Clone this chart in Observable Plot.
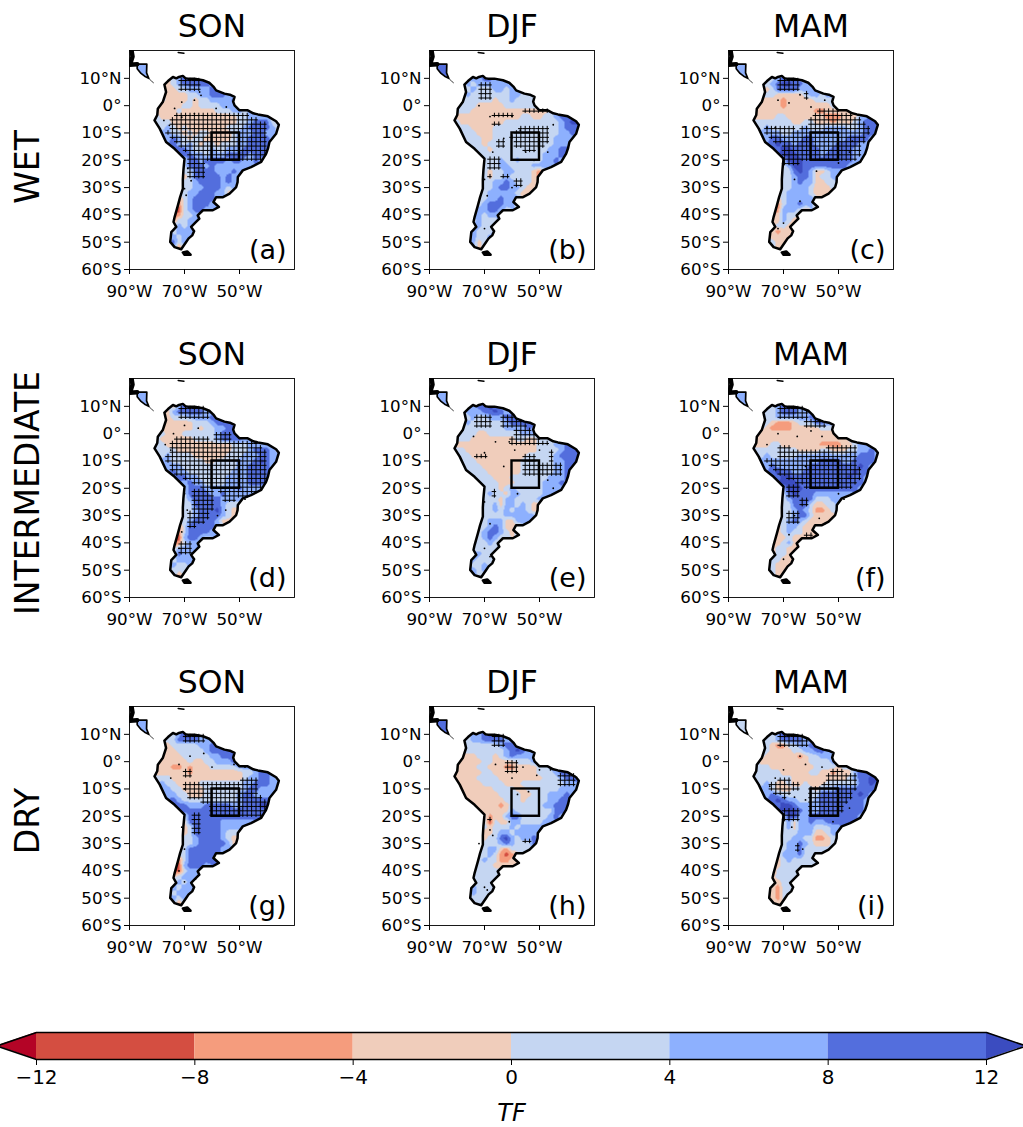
<!DOCTYPE html>
<html><head><meta charset="utf-8">
<style>
html,body{margin:0;padding:0;background:#fff;overflow:hidden}
#page{position:relative;width:1023px;height:1127px;font-family:"DejaVu Sans",sans-serif;color:#000;overflow:hidden}
.rowlab{position:absolute;left:27px;font-size:33px;white-space:nowrap;transform:translate(-50%,-50%) rotate(-90deg)}
</style>
<script src="https://cdn.jsdelivr.net/npm/d3@7"></script>
<script src="https://cdn.jsdelivr.net/npm/@observablehq/plot@0.6"></script>
</head><body><div id="page"></div>
<script>
// ---- colour classes
const levels=[-12,-8,-4,0,4,8,12];
const colors=["#b40426","#d44e41","#f59c7d","#f0cdbb","#c5d6f2","#8db0fe","#536edd","#3b4cc0"];
const seasons=["SON","DJF","MAM"];
const regimes=["WET","INTERMEDIATE","DRY"];
const panelLabels=["(a)","(b)","(c)","(d)","(e)","(f)","(g)","(h)","(i)"];
const latTicks=[10,0,-10,-20,-30,-40,-50,-60];
const lonTicks=[-90,-70,-50];
const boxLon=[-60,-50], boxLat=[-20,-10];

// ---- geography (lon, lat)
const coast=[[-77.3,7.7],[-76,9],[-74.2,10.5],[-73,10],[-72,10.5],[-70.6,10.9],[-69.6,10],[-68.8,9.9],[-66.4,9.9],[-63.3,9.3],[-61,8.4],[-59.5,7],[-58.5,5.6],[-55.5,4.4],[-53.5,4],[-51.8,3.2],[-52.3,1.5],[-51.8,0.1],[-50,-1.7],[-47,-1.7],[-45,-2.8],[-43.3,-3.2],[-39.7,-3.9],[-36.7,-5.7],[-35.7,-7],[-36.7,-10.3],[-39.1,-13.3],[-39.6,-15.5],[-40.3,-17.6],[-42.1,-20.6],[-45.8,-22.5],[-48.8,-23.7],[-50.6,-26.1],[-50.7,-28],[-51.2,-29.8],[-53.6,-32.2],[-56,-33.5],[-58.5,-33.5],[-59.5,-35.3],[-57.5,-37.1],[-59.7,-38.3],[-63.3,-38.3],[-65.2,-40.2],[-64.6,-41.4],[-65.8,-42.6],[-67.6,-44.4],[-66.5,-46],[-67.2,-47.5],[-68.5,-48.6],[-69.4,-49.9],[-71.2,-52.6],[-73.6,-51.8],[-75.2,-49.9],[-74.8,-46.3],[-73,-44.4],[-74,-42.6],[-73.6,-40.8],[-72.4,-36.5],[-71.6,-33.5],[-70.6,-30.4],[-70.6,-27],[-70.4,-23.7],[-70,-19.4],[-73.6,-15.8],[-76.7,-13.3],[-79,-8.4],[-80.9,-5.4],[-79.9,-3.4],[-79.7,-1.1],[-77.9,1.3],[-76.7,5],[-77.3,7.7]];
const isthmus=[[-87.2,15.2],[-83.7,15.2],[-83.8,12],[-83,10],[-84.5,10.8],[-85.8,11.8],[-87.2,13.5],[-87.2,15.2]];
const yucatan=[[-89.3,20.4],[-88.9,18],[-89.5,16],[-89.9,15],[-87.2,15.2]];
const panamaTail=[[-83,10],[-82,9],[-81.3,8.4]];
const hispaniola=[[-72.3,19.5],[-70.2,19.2]];
const fuego=[[-70.6,-53.8],[-69,-53.4],[-67.8,-54.6],[-70,-54.6],[-70.6,-53.8]];

// ---- values: class of each 2-degree node, lat 12 to -52; col 0 is 82W
// 1=<-12 2=-12..-8 3=-8..-4 4=-4..0 5=0..4 6=4..8 7=8..12 8=>12
const rowStart=[5,3,2,2,2,1,1,0,0,1,2,2,3,4,5,6,6,6,6,6,6,6,5,5,5,4,4,4,4,3,3,3,4];
const gridA=["66","45677776","4456777776","4445566667766","544445566777666","55444454556666766","54444554555566665","54444544444455566566","55444444444444445566665","55544444444444455677754","5654544444445556777765","6655454554444566677665","67654554444456677776","765654554555667777","77655565566677777","7766566677776777","577677776776676","5777676666666","557777666767","45777776766","55677776765","55667776565","55667776644","3567777664","35677766","2256776","235566","355666","56566","656666","66566","67566","635"];
const gridB=["66","56677666","5656666666","5565556656666","565555555665566","55555554556555555","55554444455555555","55554444444444444456","54444444444445544556777","54444444455555555556788","5544445555555555556777","5554445555555555556676","55544555555555556666","554555555555555666","55455555555556677","5555555555566677","555655655556676","5556655556666","545566555435","54556555543","55667655544","55677665444","55666665444","5566766644","56777665","6667765","665666","565556","66555","665556","66556","66456","645"];
const gridC=["66","55677766","5567887766","5457777666766","555444445665665","54444344444555555","54444344444444555","44444444444433444445","54444554444444333444667","55555554455444344456778","5655555565556666556777","6666556666666666666776","67766667766666677776","787767776666777766","78877777667777666","8887777677777666","588877777777766","5688777777776","557876445666","55677645566","55676644556","55666544455","55666654444","4566666544","35667664","3366654","346554","446544","45544","543444","54444","55444","544"];
const gridD=["66","54677766","4467777766","4455566667766","544444555677766","54444445455667766","55444555555677776","55444444555567777666","55544444444444455566665","55554444444444555677765","5655554444445556667766","6655555544555566678766","66655555555556677776","766555555556667777","77665555566667777","6766555566667776","577766666676666","5777766766666","567777766666","55777776555","55677786544","55677776544","55677776444","3577777654","35777766","2267765","235666","466666","57666","556666","56556","65556","635"];
const gridE=["66","66778766","5666778766","5565566677776","565555556777776","55555555566667666","55554455555566666","55554444444455445555","54444444444444445556677","55444444444444455556778","5544444444445555567777","5554444444455555566777","55544444445555556677","555444444555555667","55544455555556667","5554445555566676","555456555556666","5655466555566","555466555566","55646656544","55656566544","55556666664","55666446665","5567644455","56776545","6567655","655655","555556","66555","665555","65565","66565","655"];
const gridF=["66","55677766","4556777666","5556666667766","554333455577665","55433334444455555","54444444444444455","44444444444444444455","54445544444443333445666","55555555444455444556676","5655555666666666667776","6666666666677776677776","67666666777777777876","787766777777777877","78877777777778776","8887777777777776","688877777777776","5787776666666","567777555666","55777544556","55676533455","55677544445","55676544444","4566544444","45655444","4445444","345644","455444","45544","555444","55444","55444","544"];
const gridG=["66","55688766","4557777666","5455555667666","544555556777776","54444555556677776","54444454455666777","44443343444555556666","54444443444444444556776","55544444444444445667765","6554444555555556677766","6655444455555556776665","66554445555556776666","765555555555677777","77666777776677788","7777777777777777","577777777777777","4777777666666","457777766666","45777776555","55677776544","55677777644","55777777666","5577777765","35777777","2267776","225666","456666","56566","665666","65666","66566","635"];
const gridH=["66","56678766","5566777766","5555555677766","555555556787665","54445554567666655","54444554444555665","44444554443344445566","54444455444444445556777","44445555444444445556778","4444555544455555555666","4444445555445555556665","44444455554455566676","444444555455556677","44443455555566777","4444465555555777","534467755555676","5254466555566","545556566666","44566566666","45578656676","55567655575","55664355555","5565323455","56553344","5555444","555555","555555","55555","565555","56555","55555","555"];
const gridI=["66","55688766","5556777766","5543355667766","554444556677666","55444444345566666","54444444445555665","55554444444455554556","55555544444554434446777","55555554444444444567788","5654454454445555557787","6654445555466677777776","67655555557777777876","787665556777777776","78876666777777776","8887666777777776","588667777777776","5646676677777","564666555667","55566644566","55665533455","56676544455","55667555555","4666755555","45655555","3455555","355555","455555","44555","543555","54355","54355","544"];
const grids=[gridA,gridB,gridC,gridD,gridE,gridF,gridG,gridH,gridI];
const isthmusClass=[6,7,6,6,6,6,6,7,5];

// ---- hatched (significant) areas, outlined in lon/lat
const box=(w,e,n,s)=>[[w,n],[e,n],[e,s],[w,s]];
const hatchA=[[[-74,-3.5],[-46.5,-3.5],[-40.5,-6.5],[-40.5,-20],[-50,-20.5],[-61,-20],[-68,-18],[-73,-13],[-76.5,-11]],box(-72,-63.5,10,5),box(-69,-62,-19.5,-27)];
const hatchB=[box(-72.5,-67,8.5,1.5),box(-67.5,-58.5,-2,-5),box(-56.5,-47,-1.7,-3.5),box(-66.5,-64,-6,-8),[[-56,-7.5],[-47,-8],[-46.5,-14],[-52,-17],[-58,-16],[-61,-11]],box(-66,-62,-13,-15),box(-69,-64.5,-19,-23),box(-69.5,-66.5,-25,-26.5),box(-63.5,-61,-24.5,-27),box(-58.5,-56,-27,-30)];
const hatchC=[box(-72,-64,9.3,4.4),box(-62,-60,4.4,2.5),[[-59.7,-3],[-57.3,-1.2],[-51,-1.8],[-42.7,-4.2],[-40,-6],[-38,-8.5],[-41.5,-14.5],[-42.5,-20],[-50,-20],[-61,-20],[-65,-22],[-70,-21.5],[-70,-14.5],[-75.5,-12],[-76.7,-7.5],[-69.5,-7.5],[-64.5,-8.5],[-61,-7.2]]];
const hatchD=[box(-72,-61,9.3,5.6),[[-72.4,-1],[-67.6,-.5],[-59.7,-2.3],[-58.5,0],[-53.6,0],[-51.8,-2.3],[-44,-3.5],[-40.3,-6.6],[-40.3,-19.4],[-42.7,-20.6],[-47.6,-23.7],[-54.8,-25.5],[-57.3,-20.6],[-63.3,-20],[-67.6,-18.2],[-73.6,-14.5],[-76.7,-10.3],[-75.5,-4.8]],[[-67.6,-20],[-59.7,-20.6],[-59.1,-26.7],[-62,-31.6],[-67,-35.3],[-68.8,-34],[-67.6,-26.7]],box(-71.2,-67.6,-40,-45)];
const hatchE=[box(-73,-67.6,7,2),[[-63.3,7.4],[-61,7.4],[-53.6,3.8],[-53.6,1.3],[-63.3,2]],[[-58,2],[-52.4,1.3],[-51.2,-1.7],[-46.4,-2.9],[-46.4,-4.2],[-60.3,-4.8],[-60.3,-1.7]],box(-74,-69.5,-7.2,-9),box(-55.5,-51.2,-8.4,-15.7),box(-50.6,-41,-11,-15.7),box(-47,-44.5,-6,-10.3),box(-67.6,-66,-20.6,-23.7)];
const hatchF=[box(-72,-61,9.3,4.4),box(-62,-53.6,4.4,2),[[-72.4,-5.4],[-69.4,-3.5],[-66.4,-6],[-57.3,-6.6],[-52.4,-4.2],[-44,-4.8],[-42,-14.5],[-43,-19.5],[-50,-20],[-61,-20],[-66,-17.5],[-71,-15],[-76,-11],[-76,-8.5],[-72.4,-8.5]],box(-69.4,-64.5,-19.5,-23),box(-64.5,-61.5,-23.5,-26.5),box(-69.4,-64.5,-29,-33.5),box(-63,-59,-36.5,-37.5)];
const hatchG=[box(-70,-62.7,9.3,6.2),box(-70,-66.4,-2.3,-5.4),[[-70,-7.2],[-50,-7.2],[-47,-5.4],[-42.7,-5.4],[-43.3,-10.9],[-40.3,-14.5],[-40.3,-20],[-60.3,-20],[-61,-15.8],[-69.4,-13.3]],box(-67.6,-63.3,-19.4,-26.1)];
const hatchH=[box(-66.4,-62.7,9.3,5.6),box(-62.7,-57.3,0,-3.8),box(-42.7,-36,-4.2,-9),box(-55.5,-53,-28,-30),box(-68,-67,-20.6,-22)];
const hatchI=[box(-71.2,-61,9.3,4.4),[[-54.8,-6],[-51.2,-2.9],[-44,-4.2],[-43.3,-10.3],[-50.2,-20],[-61,-20],[-61,-9.6],[-56,-9.6]],[[-75.5,-8.4],[-68.2,-5.4],[-63.3,-9.6],[-69.4,-13.3],[-74.2,-12]],box(-70.6,-64.5,-17,-22.5),box(-65.7,-63.3,-30.4,-32.8)];
const hatches=[hatchA,hatchB,hatchC,hatchD,hatchE,hatchF,hatchG,hatchH,hatchI];
const hatchLons=d3.range(-84,-32,1.6), hatchLats=d3.range(14,-58,-1.6);

// ---- isolated significant specks
const specksA=[[-73.6,-1],[-71,1.3],[-66.4,2],[-64,3.8],[-58.5,-1],[-54.8,-.5],[-77.5,-5.4],[-75.5,-7.2],[-68.8,-23],[-67.6,-27.5],[-70,-30.4],[-69.4,-32.8],[-64.5,5],[-71,-4.2],[-66.4,-2.9]];
const specksB=[[-72,0],[-68,-4],[-60,-4],[-57,-9],[-63,-12],[-67,-17],[-70,-27],[-69,-33],[-60,-30],[-52,-20],[-47,-17],[-70,-45],[-68,-48],[-55,-17],[-45,-7]];
const specksC=[[-72,2],[-68,1],[-64,4],[-60,-.5],[-73,-8],[-58,-24],[-66,-27],[-64,-35],[-72,-45],[-70,-43],[-50,-21],[-46,-17],[-45,-13],[-55,2],[-76,-8]];
const specksD=[[-74,0],[-70,3],[-65,2],[-75,-6],[-77,-4],[-70,-22],[-69,-28],[-71,-36],[-48,-24],[-55,-28],[-58,-30],[-72,-42]];
const specksE=[[-74,-1],[-70,-7],[-66,-3],[-61,-3],[-59,-6],[-50,-6],[-63,-12],[-70,-25],[-68,-33],[-70,-42],[-68,-45],[-58,-22],[-45,-20],[-47,-17]];
const specksF=[[-76,-4],[-72,0],[-65,-1],[-60,1],[-56,-1],[-62,-12],[-50,-22],[-48,-24],[-68,-37],[-70,-46],[-66,-30],[-57,-31],[-55,-33]];
const specksG=[[-72,-1],[-68,2],[-75,-6],[-70,-10],[-71,-24],[-70,-32],[-72,-40],[-70,-44],[-66,-43],[-63,3],[-60,-2],[-52,-1],[-48,-2]];
const specksH=[[-66,-1],[-60,-6],[-51,-5],[-54,-11],[-58,-12],[-68,-25],[-67,-27],[-61,-22],[-72,-30],[-69,-47],[-70,-46],[-50,-3],[-46,-3],[-56,-2]];
const specksI=[[-73,-6],[-64,2],[-62,-1],[-56,-2],[-70,-3],[-66,-13],[-62,-14],[-63,-32],[-67,-24],[-75,-9],[-52,-22],[-46,-17]];
const specks=[specksA,specksB,specksC,specksD,specksE,specksF,specksG,specksH,specksI];

// ---- helpers
const classValue=c=>(c-4.5)*4;
function parseGrid(rows){
  return rows.map((r,i)=>{const a=new Array(25).fill(NaN);[...r].forEach((c,j)=>{a[rowStart[i]+j]=classValue(+c)});return a});
}
function makeField(rows,caClass){
  const g=parseGrid(rows), nRows=g.length;
  const at=(r,c)=>(r>=0&&r<nRows&&c>=0&&c<25)?g[r][c]:NaN;
  return (lon,lat)=>{
    if(d3.polygonContains(isthmus,[lon,lat])) return classValue(caClass);
    if(!d3.polygonContains(coast,[lon,lat])) return NaN;
    const fx=(lon+82)/2, fy=(12-lat)/2, c0=Math.floor(fx), r0=Math.floor(fy), u=fx-c0, v=fy-r0;
    let s=0,w=0;
    for(const [r,c,k] of [[r0,c0,(1-u)*(1-v)],[r0,c0+1,u*(1-v)],[r0+1,c0,(1-u)*v],[r0+1,c0+1,u*v]]){
      const val=at(r,c); if(!isNaN(val)){s+=val*k;w+=k}
    }
    if(w>0) return s/w;
    for(let d=1;d<5;d++)for(let dr=-d;dr<=d+1;dr++)for(let dc=-d;dc<=d+1;dc++){
      const val=at(r0+dr,c0+dc); if(!isNaN(val)) return val;
    }
    return NaN;
  };
}
function latLabel(d){return d===0?"0°":Math.abs(d)+"°"+(d>0?"N":"S")}
function lonLabel(d){return Math.abs(d)+"°W"}
const colorScale={type:"threshold",domain:levels,range:colors};

// ---- layout
const frameX=[129,429,728], frameY=[50,378,706], frameW=165, frameH=219;
const mL=70,mR=6,mT=46,mB=34;
const page=document.getElementById("page");
const textFont={fontFamily:"DejaVu Sans",background:"transparent",overflow:"visible"};

grids.forEach((rows,k)=>{
  const col=k%3,row=Math.floor(k/3);
  const field=makeField(rows,isthmusClass[k]);
  const polys=hatches[k];
  const lattice=[];
  for(const x of hatchLons)for(const y of hatchLats){
    if(d3.polygonContains(coast,[x,y])&&polys.some(p=>d3.polygonContains(p,[x,y]))) lattice.push({x,y});
  }
  const plot=Plot.plot({
    width:frameW+mL+mR,height:frameH+mT+mB,marginLeft:mL,marginRight:mR,marginTop:mT,marginBottom:mB,
    x:{domain:[-90,-30]},y:{domain:[-60,20.2]},color:colorScale,
    style:{...textFont,position:"absolute",left:(frameX[col]-mL)+"px",top:(frameY[row]-mT)+"px",fontSize:"17px"},
    marks:[
      Plot.raster({fill:field,x1:-90,x2:-30,y1:-60,y2:20.2,pixelSize:1}),
      Plot.ruleY(lattice,{y:"y",x1:d=>d.x-.82,x2:d=>d.x+.82,stroke:"#000",strokeWidth:1}),
      Plot.ruleX(lattice,{x:"x",y1:d=>d.y-.82,y2:d=>d.y+.82,stroke:"#000",strokeWidth:1}),
      Plot.dot(specks[k],{x:d=>d[0],y:d=>d[1],r:.9,fill:"#000"}),
      Plot.line(coast,{x:d=>d[0],y:d=>d[1],stroke:"#000",strokeWidth:2.5,curve:"linear"}),
      Plot.line(isthmus,{x:d=>d[0],y:d=>d[1],stroke:"#000",strokeWidth:1.7}),
      Plot.line(yucatan,{x:d=>d[0],y:d=>d[1],stroke:"#000",strokeWidth:4.5,clip:true}),
      Plot.line(panamaTail,{x:d=>d[0],y:d=>d[1],stroke:"#000",strokeWidth:.8}),
      Plot.line(hispaniola,{x:d=>d[0],y:d=>d[1],stroke:"#000",strokeWidth:1.5}),
      Plot.line(fuego,{x:d=>d[0],y:d=>d[1],stroke:"#000",strokeWidth:2.5,fill:"#000"}),
      Plot.rectY([0],{x1:boxLon[0],x2:boxLon[1],y1:boxLat[0],y2:boxLat[1],stroke:"#000",strokeWidth:2.4,fill:"none"}),
      Plot.axisY({ticks:latTicks,tickFormat:latLabel,tickSize:5,tickPadding:3,label:null,fontSize:16.7,anchor:"left"}),
      Plot.axisX({ticks:lonTicks,tickFormat:lonLabel,tickSize:5,tickPadding:11,label:null,fontSize:16.7,anchor:"bottom"}),
      Plot.frame({stroke:"#000",strokeWidth:.9}),
      Plot.text([panelLabels[k]],{frameAnchor:"bottom-right",dx:-8,dy:-11,fontSize:27,fill:"#000"}),
      Plot.text([seasons[col]],{frameAnchor:"top",dy:-36,lineAnchor:"top",fontSize:31.5,fill:"#000"})
    ]
  });
  page.appendChild(plot);
});

regimes.forEach((t,i)=>{
  const d=document.createElement("div");
  d.className="rowlab";d.textContent=t;
  d.style.top=[167,493,821][i]+"px";
  page.appendChild(d);
});

// ---- colour bar
const barBands=levels.slice(0,-1).map((v,i)=>({x1:v,x2:levels[i+1],v:(v+levels[i+1])/2}));
const barEnds=[[{x:-13,y1:.5,y2:.5,v:-14},{x:-12,y1:0,y2:1,v:-14}],[{x:12,y1:0,y2:1,v:14},{x:13,y1:.5,y2:.5,v:14}]];
const barOutline=[[-13,.5],[-12,1],[12,1],[13,.5],[12,0],[-12,0],[-13,.5]];
const bar=Plot.plot({
  width:1023,height:101,marginLeft:36,marginRight:37,marginTop:6,marginBottom:68,
  x:{domain:[-12,12]},y:{domain:[0,1],axis:null},color:colorScale,
  style:{...textFont,position:"absolute",left:"0px",top:"1026px",overflow:"hidden"},
  marks:[
    Plot.rect(barBands,{x1:"x1",x2:"x2",y1:0,y2:1,fill:"v"}),
    ...barEnds.map(e=>Plot.area(e,{x1:"x",y1:"y1",y2:"y2",fill:"v"})),
    Plot.line(barOutline,{x:d=>d[0],y:d=>d[1],stroke:"#000",strokeWidth:1.6}),
    Plot.axisX({ticks:levels,tickFormat:d=>String(d).replace("-","−"),tickSize:6,tickPadding:4,label:null,fontSize:20,anchor:"bottom"}),
    Plot.text(["TF"],{x:0,y:-2,lineAnchor:"middle",fontSize:24,fontStyle:"italic",fill:"#000"})
  ]
});
page.appendChild(bar);
</script></body></html>
